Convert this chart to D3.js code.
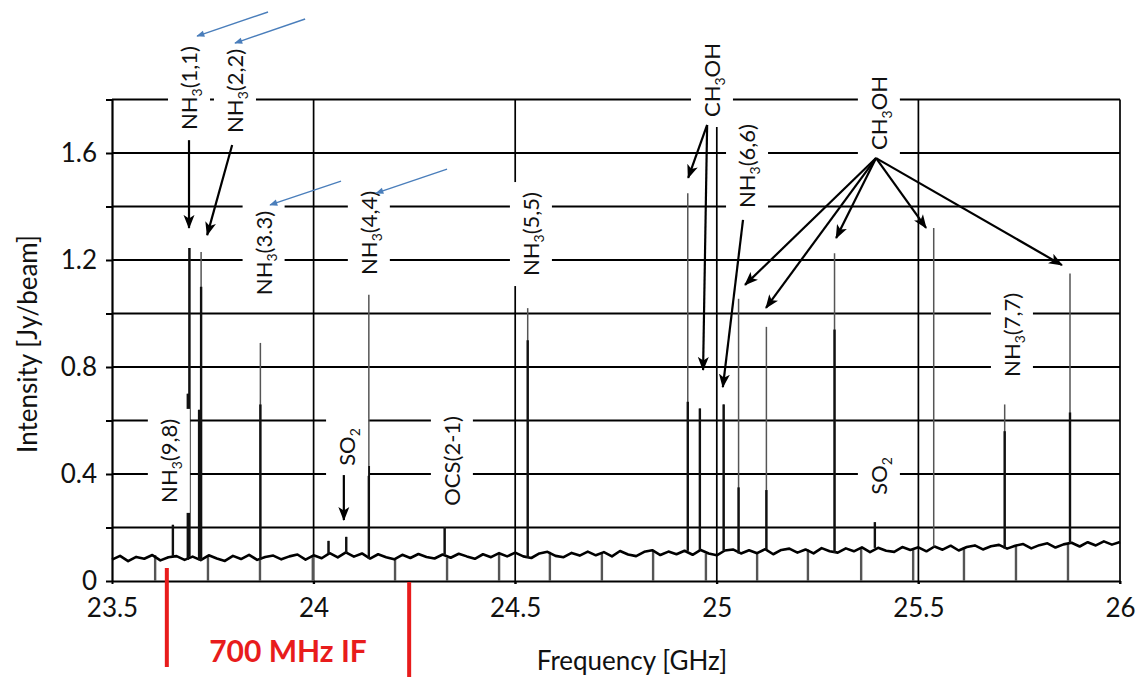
<!DOCTYPE html>
<html>
<head>
<meta charset="utf-8">
<script src="https://cdn.jsdelivr.net/npm/d3@7"></script>
<style>
  body { margin: 0; background: #fff; }
  svg { display: block; font-family: Lato, "Open Sans", sans-serif; }
</style>
</head>
<body>
<div id="chart"></div>
<script>
// ---- data (GHz / Jy per beam) ----
var baseStart = 23.5, baseStep = 0.02;
// noisy continuum level, one sample every 20 MHz
var baseline = [
  0.080,0.094,0.074,0.090,0.083,0.097,0.077,0.089,0.093,0.079,
  0.091,0.078,0.096,0.084,0.075,0.094,0.082,0.098,0.079,0.090,
  0.095,0.081,0.092,0.099,0.080,0.096,0.085,0.104,0.088,0.107,
  0.091,0.103,0.084,0.100,0.089,0.081,0.098,0.086,0.101,0.090,
  0.084,0.099,0.087,0.102,0.092,0.083,0.100,0.089,0.104,0.092,
  0.106,0.092,0.086,0.103,0.109,0.094,0.089,0.105,0.095,0.110,
  0.096,0.108,0.092,0.112,0.099,0.093,0.109,0.115,0.097,0.110,
  0.100,0.113,0.098,0.116,0.103,0.096,0.114,0.118,0.103,0.115,
  0.104,0.119,0.100,0.116,0.121,0.106,0.118,0.103,0.123,0.111,
  0.106,0.122,0.111,0.126,0.108,0.124,0.113,0.109,0.127,0.116,
  0.126,0.111,0.129,0.117,0.132,0.114,0.127,0.133,0.118,0.130,
  0.135,0.121,0.132,0.138,0.122,0.134,0.141,0.125,0.137,0.143,
  0.129,0.145,0.133,0.148,0.136,0.146
];
// sub-band edges where the spectrum drops to zero
var dipFreq = [23.607, 23.738, 23.867, 23.998, 24.202, 24.331, 24.460, 24.586, 24.715,
               24.842, 24.973, 25.100, 25.226, 25.358, 25.487, 25.613, 25.742, 25.871];
// spectral lines: thin top and thick core heights
var peakFreq = [23.651, 23.688, 23.692, 23.716, 23.721, 23.868, 24.037, 24.081, 24.137, 24.325, 24.531,
                24.928, 24.958, 25.017, 25.054, 25.123, 25.292, 25.392, 25.538, 25.714, 25.876];
var peakTop  = [0.21, 0.70, 1.245, 0.64, 1.23, 0.89, 0.15, 0.165, 1.07, 0.20, 1.02,
                1.45, 0.645, 0.66, 1.055, 0.95, 1.225, 0.22, 1.32, 0.66, 1.15];
var peakCore = [0.21, 0.70, 1.245, 0.64, 1.10, 0.66, 0.15, 0.165, 0.43, 0.20, 0.90,
                0.67, 0.645, 0.66, 0.35, 0.34, 0.94, 0.22, 0.13, 0.56, 0.63];

var yTicks = [0, 0.2, 0.4, 0.6, 0.8, 1, 1.2, 1.4, 1.6, 1.8];
var yLabels = [0, 0.4, 0.8, 1.2, 1.6];
var xTicks = [23.5, 24, 24.5, 25, 25.5, 26];
var xGrid = [24, 24.5, 25, 25.5, 26];

// line labels ("|" toggles subscript), centre position in data units
var labelText = ["NH|3|(1,1)", "NH|3|(2,2)", "NH|3|(3.3)", "NH|3|(4,4)", "NH|3|(5,5)", "CH|3|OH",
                 "NH|3|(6,6)", "CH|3|OH", "NH|3|(7,7)", "NH|3|(9,8)", "SO|2", "OCS(2-1)", "SO|2"];
var labelFreq = [23.691, 23.805, 23.876, 24.137, 24.539, 24.988, 25.075, 25.402, 25.732, 23.641, 24.083, 24.343, 25.402];
var labelVal  = [1.843, 1.832, 1.226, 1.301, 1.297, 1.873, 1.551, 1.750, 0.920, 0.449, 0.501, 0.449, 0.393];

// black arrows: [from freq, from val, to freq, to val]
var arrowsK = [
  [23.691, 1.648, 23.691, 1.320],
  [23.798, 1.630, 23.736, 1.293],
  [24.075, 0.396, 24.075, 0.228],
  [24.976, 1.705, 24.929, 1.507],
  [24.976, 1.705, 24.966, 0.789],
  [25.065, 1.350, 25.015, 0.725],
  [25.395, 1.581, 25.296, 1.282],
  [25.395, 1.581, 25.519, 1.320],
  [25.395, 1.581, 25.856, 1.181],
  [25.395, 1.581, 25.070, 1.107],
  [25.395, 1.581, 25.122, 1.021]
];
// blue arrows
var arrowsB = [
  [23.887, 2.127, 23.711, 2.037],
  [23.979, 2.101, 23.805, 2.011],
  [24.068, 1.495, 23.892, 1.406],
  [24.331, 1.540, 24.155, 1.450]
];
// 700 MHz IF band edges
var ifFreq = [23.636, 24.237];

// ---- drawing ----
var W = 1136, H = 677;
var x = d3.scaleLinear().domain([23.5, 26]).range([112, 1120]);
var y = d3.scaleLinear().domain([0, 1.8]).range([581, 99.5]);

var svg = d3.select("#chart").append("svg").attr("width", W).attr("height", H);

var defs = svg.append("defs");
defs.append("marker").attr("id", "headK")
  .attr("viewBox", "0 -6 14 12").attr("refX", 13).attr("refY", 0)
  .attr("markerWidth", 14).attr("markerHeight", 12)
  .attr("markerUnits", "userSpaceOnUse").attr("orient", "auto")
  .append("path").attr("d", "M0,-5.5L14,0L0,5.5L3.5,0Z").attr("fill", "#000");
defs.append("marker").attr("id", "headB")
  .attr("viewBox", "0 -5 10 10").attr("refX", 9).attr("refY", 0)
  .attr("markerWidth", 10).attr("markerHeight", 8)
  .attr("markerUnits", "userSpaceOnUse").attr("orient", "auto")
  .append("path").attr("d", "M0,-4L10,0L0,4Z").attr("fill", "#4a7ebb");

// horizontal grid lines
svg.append("g").selectAll("line").data(yTicks.slice(1)).join("line")
  .attr("x1", x(23.5)).attr("x2", x(26))
  .attr("y1", function(d) { return y(d); }).attr("y2", function(d) { return y(d); })
  .attr("stroke", "#000").attr("stroke-width", 2.2);

// vertical grid lines
svg.append("g").selectAll("line").data(xGrid).join("line")
  .attr("x1", function(d) { return x(d); }).attr("x2", function(d) { return x(d); })
  .attr("y1", y(0) + 3).attr("y2", y(1.8))
  .attr("stroke", "#000").attr("stroke-width", 1.7);

// axes
var yAxis = svg.append("g").attr("transform", "translate(" + x(23.5) + ",0)")
  .call(d3.axisLeft(y).tickValues(yTicks).tickSize(6).tickSizeOuter(0).tickPadding(9)
    .tickFormat(function(d) { return yLabels.indexOf(d) >= 0 ? String(d) : ""; }));
var xAxis = svg.append("g").attr("transform", "translate(0," + y(0) + ")")
  .call(d3.axisBottom(x).tickValues(xTicks).tickSize(3).tickSizeOuter(0).tickPadding(15)
    .tickFormat(String));
[yAxis, xAxis].forEach(function(a) {
  a.select(".domain").attr("stroke", "#000").attr("stroke-width", 2.2);
  a.selectAll(".tick line").attr("stroke", "#000").attr("stroke-width", 2);
  a.selectAll(".tick text").attr("font-size", 26).attr("fill", "#111")
    .attr("font-family", "Lato, 'Open Sans', sans-serif");
});

// spectrum
function baseAt(f) {
  var i = Math.round((f - baseStart) / baseStep);
  return baseline[Math.max(0, Math.min(baseline.length - 1, i))];
}
var spec = svg.append("g");
spec.selectAll("line.dip").data(dipFreq).join("line").attr("class", "dip")
  .attr("x1", function(d) { return x(d); }).attr("x2", function(d) { return x(d); })
  .attr("y1", function(d) { return y(baseAt(d)); }).attr("y2", y(0))
  .attr("stroke", "#555").attr("stroke-width", 2.4);
spec.append("path").datum(baseline)
  .attr("d", d3.line()
    .x(function(d, i) { return x(baseStart + i * baseStep); })
    .y(function(d) { return y(d); }))
  .attr("fill", "none").attr("stroke", "#000").attr("stroke-width", 2.6)
  .attr("stroke-linejoin", "round");
spec.selectAll("line.top").data(peakFreq).join("line").attr("class", "top")
  .attr("x1", function(d) { return x(d); }).attr("x2", function(d) { return x(d); })
  .attr("y1", function(d) { return y(baseAt(d)); })
  .attr("y2", function(d, i) { return y(peakTop[i]); })
  .attr("stroke", "#555").attr("stroke-width", 1.5);
spec.selectAll("line.core").data(peakFreq).join("line").attr("class", "core")
  .attr("x1", function(d) { return x(d); }).attr("x2", function(d) { return x(d); })
  .attr("y1", function(d) { return y(baseAt(d)); })
  .attr("y2", function(d, i) { return y(peakCore[i]); })
  .attr("stroke", "#111").attr("stroke-width", 2.4);

// line labels on white boxes
var lab = svg.append("g").selectAll("g").data(labelText).join("g")
  .attr("transform", function(d, i) {
    return "translate(" + x(labelFreq[i]) + "," + y(labelVal[i]) + ") rotate(-90)";
  });
var box = lab.append("rect").attr("fill", "#fff");
var txt = lab.append("text").attr("text-anchor", "middle").attr("y", 8)
  .attr("font-size", 22).attr("fill", "#111");
txt.each(function(d) {
  var t = d3.select(this);
  d.split("|").forEach(function(part, k) {
    if (!part) return;
    if (k % 2 === 1) {
      t.append("tspan").attr("font-size", 14).attr("dy", 5).text(part);
    } else {
      t.append("tspan").attr("dy", k > 0 ? -5 : 0).text(part);
    }
  });
});
txt.each(function(d, i) {
  var len = this.getComputedTextLength();
  d3.select(box.nodes()[i])
    .attr("x", -len / 2 - 10).attr("width", len + 20)
    .attr("y", -21).attr("height", 42);
});

// arrows
svg.append("g").selectAll("line").data(arrowsK).join("line")
  .attr("x1", function(d) { return x(d[0]); }).attr("y1", function(d) { return y(d[1]); })
  .attr("x2", function(d) { return x(d[2]); }).attr("y2", function(d) { return y(d[3]); })
  .attr("stroke", "#000").attr("stroke-width", 2.2).attr("marker-end", "url(#headK)");
svg.append("g").selectAll("line").data(arrowsB).join("line")
  .attr("x1", function(d) { return x(d[0]); }).attr("y1", function(d) { return y(d[1]); })
  .attr("x2", function(d) { return x(d[2]); }).attr("y2", function(d) { return y(d[3]); })
  .attr("stroke", "#4a7ebb").attr("stroke-width", 1.4).attr("marker-end", "url(#headB)");

// IF band markers
svg.append("g").selectAll("line").data(ifFreq).join("line")
  .attr("x1", function(d) { return x(d); }).attr("x2", function(d) { return x(d); })
  .attr("y1", function(d, i) { return i === 0 ? y(0) - 13 : y(0) + 1; })
  .attr("y2", function(d, i) { return i === 0 ? y(0) + 86 : H; })
  .attr("stroke", "#e81c1c").attr("stroke-width", 4);
svg.append("text")
  .attr("x", (x(ifFreq[0]) + x(ifFreq[1])) / 2).attr("y", 662)
  .attr("text-anchor", "middle").attr("font-size", 30).attr("font-weight", "bold")
  .attr("fill", "#e81c1c").text("700 MHz IF");

// axis titles
svg.append("text").attr("x", 632).attr("y", 670).attr("text-anchor", "middle")
  .attr("font-size", 26).attr("fill", "#111").text("Frequency [GHz]");
svg.append("text").attr("transform", "translate(37,344) rotate(-90)")
  .attr("text-anchor", "middle").attr("font-size", 26).attr("fill", "#111")
  .text("Intensity [Jy/beam]");
</script>
</body>
</html>
